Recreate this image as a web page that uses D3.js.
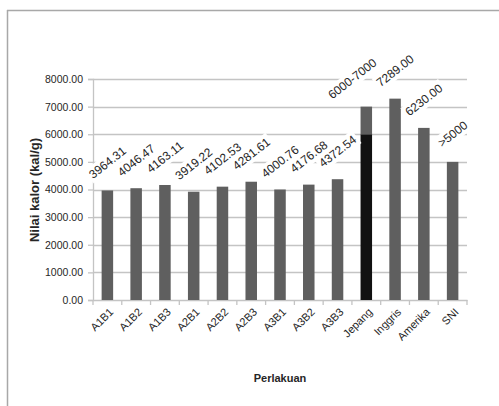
<!DOCTYPE html>
<html>
<head>
<meta charset="utf-8">
<script src="https://cdn.jsdelivr.net/npm/d3@7"></script>
<style>
  html, body { margin: 0; padding: 0; background: #fff; }
  svg { display: block; }
  text { font-family: "Liberation Sans", Arial, sans-serif; fill: #262626; }
</style>
</head>
<body>
<script>
// ---- data ----
const categories = ["A1B1","A1B2","A1B3","A2B1","A2B2","A2B3","A3B1","A3B2","A3B3","Jepang","Inggris","Amerika","SNI"];
const baseValues = [3964.31, 4046.47, 4163.11, 3919.22, 4102.53, 4281.61, 4000.76, 4176.68, 4372.54, 6000, 7289, 6230, 5000];
const topValues  = [0, 0, 0, 0, 0, 0, 0, 0, 0, 1000, 0, 0, 0];
const valueLabels = ["3964.31","4046.47","4163.11","3919.22","4102.53","4281.61","4000.76","4176.68","4372.54","6000-7000","7289.00","6230.00",">5000"];
const yTicks = [0, 1000, 2000, 3000, 4000, 5000, 6000, 7000, 8000];
const xTitle = "Perlakuan";
const yTitle = "Nilai kalor (kal/g)";

// ---- layout ----
const W = 499, H = 406;
const pLeft = 93, pRight = 467, pTop = 79, pBottom = 300;
const grey = "#5f5f5f", black = "#111111", gridC = "#c4c4c4";

const svg = d3.select("body").append("svg").attr("width", W).attr("height", H);

// frame (left + top)
svg.append("line").attr("x1", 7.5).attr("x2", 7.5).attr("y1", 10).attr("y2", H).attr("stroke", "#a8a8a8").attr("stroke-width", 1.5);
svg.append("line").attr("x1", 7).attr("x2", W).attr("y1", 10.5).attr("y2", 10.5).attr("stroke", "#a8a8a8").attr("stroke-width", 1.5);

const x = d3.scaleBand().domain(categories).range([pLeft, pRight]).padding(0);
const y = d3.scaleLinear().domain([0, 8000]).range([pBottom, pTop]);
const barW = x.bandwidth() * 0.4;

// gridlines
svg.append("g").selectAll("line").data(yTicks.filter(d => d > 0)).join("line")
  .attr("x1", pLeft).attr("x2", pRight)
  .attr("y1", d => Math.round(y(d)) + 0.5).attr("y2", d => Math.round(y(d)) + 0.5)
  .attr("stroke", gridC).attr("stroke-width", 1.3);

// y axis
const yAxis = svg.append("g").attr("transform", `translate(${pLeft},0)`)
  .call(d3.axisLeft(y).tickValues(yTicks).tickFormat(d3.format(".2f")).tickSize(5).tickPadding(5));
yAxis.select(".domain").attr("stroke", gridC).attr("stroke-width", 1.3);
yAxis.selectAll(".tick line").attr("stroke", gridC).attr("stroke-width", 1.3);
yAxis.selectAll(".tick text").style("font-size", "10.5px").style("font-family", "Liberation Sans, Arial, sans-serif").attr("fill", "#262626");

// x axis
const xAxis = svg.append("g").attr("transform", `translate(0,${pBottom})`)
  .call(d3.axisBottom(x).tickSize(0).tickFormat(""));
xAxis.select(".domain").attr("stroke", gridC).attr("stroke-width", 1.3);
// tick marks at band boundaries
svg.append("g").selectAll("line").data(d3.range(categories.length + 1)).join("line")
  .attr("x1", i => pLeft + i * x.step()).attr("x2", i => pLeft + i * x.step())
  .attr("y1", pBottom).attr("y2", pBottom + 5)
  .attr("stroke", gridC).attr("stroke-width", 1.3);

// bars
const bars = svg.append("g");
categories.forEach((c, i) => {
  const cx = x(c) + x.bandwidth() / 2;
  bars.append("rect")
    .attr("x", cx - barW / 2).attr("width", barW)
    .attr("y", y(baseValues[i])).attr("height", y(0) - y(baseValues[i]))
    .attr("fill", topValues[i] > 0 ? black : grey);
  if (topValues[i] > 0) {
    bars.append("rect")
      .attr("x", cx - barW / 2).attr("width", barW)
      .attr("y", y(baseValues[i] + topValues[i])).attr("height", y(baseValues[i]) - y(baseValues[i] + topValues[i]))
      .attr("fill", grey);
  }
});

// value labels (rotated, white background)
const lab = svg.append("g");
categories.forEach((c, i) => {
  const total = baseValues[i] + topValues[i];
  const shift = topValues[i] > 0 ? -14 : 0;
  const cx = x(c) + x.bandwidth() / 2 + shift;
  const cy = y(total) - 28;
  const g = lab.append("g").attr("transform", `translate(${cx},${cy}) rotate(-38)`);
  const t = g.append("text").attr("text-anchor", "middle").attr("dy", "0.35em")
    .style("font-size", "12px").text(valueLabels[i]);
  const bb = t.node().getBBox();
  g.insert("rect", "text").attr("x", bb.x - 2).attr("y", bb.y - 1).attr("width", bb.width + 4).attr("height", bb.height + 2).attr("fill", "#fff");
});

// x tick labels
svg.append("g").selectAll("text").data(categories).join("text")
  .attr("transform", d => `translate(${x(d) + x.bandwidth() / 2 + 4},${pBottom + 10}) rotate(-45)`)
  .attr("text-anchor", "end").attr("dy", "0.35em")
  .style("font-size", "11px").text(d => d);

// axis titles
svg.append("text").attr("x", 280).attr("y", 382).attr("text-anchor", "middle")
  .style("font-size", "11px").style("font-weight", "bold").text(xTitle);
svg.append("text").attr("transform", `translate(39,190) rotate(-90)`).attr("text-anchor", "middle")
  .style("font-size", "13px").style("font-weight", "bold").text(yTitle);
</script>
</body>
</html>
